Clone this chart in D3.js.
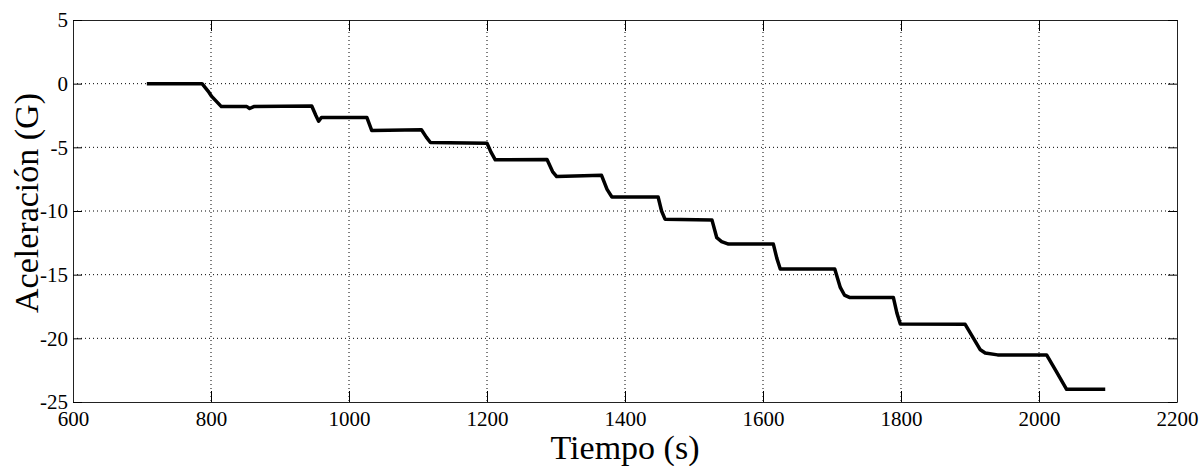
<!DOCTYPE html>
<html>
<head>
<meta charset="utf-8">
<script src="https://cdn.jsdelivr.net/npm/d3@7"></script>
<style>
  body { margin: 0; background: #fff; }
</style>
</head>
<body>
<div id="chart"></div>
<script>
// Data
const timeValues = [707, 787, 796, 801, 815, 852, 856, 862, 946, 952, 956, 960, 1026, 1033, 1105, 1112, 1118,
  1200, 1206, 1212, 1287, 1295, 1301, 1366, 1374, 1381, 1448, 1453, 1458, 1526, 1533, 1540, 1550,
  1615, 1620, 1625, 1704, 1712, 1718, 1726, 1789, 1794, 1799, 1893, 1904, 1915, 1922, 1940,
  2011, 2025, 2040, 2096];
const accelValues = [0, 0, -0.6, -1.0, -1.8, -1.8, -1.95, -1.8, -1.75, -2.5, -2.95, -2.66, -2.66, -3.68, -3.62, -4.2, -4.62,
  -4.67, -5.4, -5.98, -5.95, -6.9, -7.3, -7.2, -8.3, -8.9, -8.9, -10.0, -10.64, -10.7, -12.1, -12.4, -12.6,
  -12.6, -13.7, -14.55, -14.55, -16.0, -16.6, -16.8, -16.8, -18.0, -18.87, -18.9, -19.9, -20.9, -21.15, -21.3,
  -21.3, -22.6, -24.0, -24.0];
const xTicks = [600, 800, 1000, 1200, 1400, 1600, 1800, 2000, 2200];
const yTicks = [5, 0, -5, -10, -15, -20, -25];

const fontName = "'Liberation Serif'";
const width = 1200, height = 466;
const margin = { top: 20, right: 23, bottom: 64, left: 73 };
const innerW = width - margin.left - margin.right;
const innerH = height - margin.top - margin.bottom;

const svg = d3.select("#chart").append("svg")
  .attr("width", width)
  .attr("height", height);

const x = d3.scaleLinear().domain([600, 2200]).range([margin.left, margin.left + innerW]);
const y = d3.scaleLinear().domain([-25, 5]).range([margin.top + innerH, margin.top]);

// Grid lines (dotted)
svg.append("g")
  .selectAll("line")
  .data(xTicks.slice(1, -1))
  .join("line")
  .attr("x1", d => x(d)).attr("x2", d => x(d))
  .attr("y1", margin.top).attr("y2", margin.top + innerH)
  .attr("stroke", "#000").attr("stroke-width", 1)
  .attr("stroke-dasharray", "1,3");

svg.append("g")
  .selectAll("line")
  .data(yTicks.slice(1, -1))
  .join("line")
  .attr("x1", margin.left).attr("x2", margin.left + innerW)
  .attr("y1", d => y(d)).attr("y2", d => y(d))
  .attr("stroke", "#000").attr("stroke-width", 1)
  .attr("stroke-dasharray", "1,3");

// Data line
const points = timeValues.map((t, i) => ({ t: t, a: accelValues[i] }));
svg.append("path")
  .datum(points)
  .attr("fill", "none")
  .attr("stroke", "#000")
  .attr("stroke-width", 3.5)
  .attr("stroke-linejoin", "round")
  .attr("d", d3.line().x(d => x(d.t)).y(d => y(d.a)));

// Axes with inward ticks, box on
const fmt = d => String(d);
svg.append("g")
  .attr("transform", `translate(0,${margin.top + innerH})`)
  .call(d3.axisBottom(x).tickValues(xTicks).tickFormat(fmt).tickSize(-11).tickPadding(9).tickSizeOuter(0))
  .call(g => g.selectAll("text").style("font-size", "21px").style("font-family", fontName).attr("fill", "#000"));

svg.append("g")
  .attr("transform", `translate(0,${margin.top})`)
  .call(d3.axisTop(x).tickValues(xTicks).tickSize(-11).tickSizeOuter(0))
  .call(g => g.selectAll("text").remove());

svg.append("g")
  .attr("transform", `translate(${margin.left},0)`)
  .call(d3.axisLeft(y).tickValues(yTicks).tickFormat(fmt).tickSize(-9).tickPadding(5).tickSizeOuter(0))
  .call(g => g.selectAll("text").style("font-size", "21px").style("font-family", fontName).attr("fill", "#000"));

svg.append("g")
  .attr("transform", `translate(${margin.left + innerW},0)`)
  .call(d3.axisRight(y).tickValues(yTicks).tickSize(-9).tickSizeOuter(0))
  .call(g => g.selectAll("text").remove());

svg.selectAll(".domain").attr("stroke", "#222");
svg.selectAll(".tick line").attr("stroke", "#000");

// Axis labels
svg.append("text")
  .attr("x", x(1400))
  .attr("y", 459)
  .attr("text-anchor", "middle")
  .style("font-family", fontName)
  .style("font-size", "34px")
  .text("Tiempo (s)");

svg.append("text")
  .attr("transform", `translate(38,${y(-10) - 8}) rotate(-90)`)
  .attr("text-anchor", "middle")
  .style("font-family", fontName)
  .style("font-size", "34px")
  .text("Aceleración (G)");
</script>
</body>
</html>
